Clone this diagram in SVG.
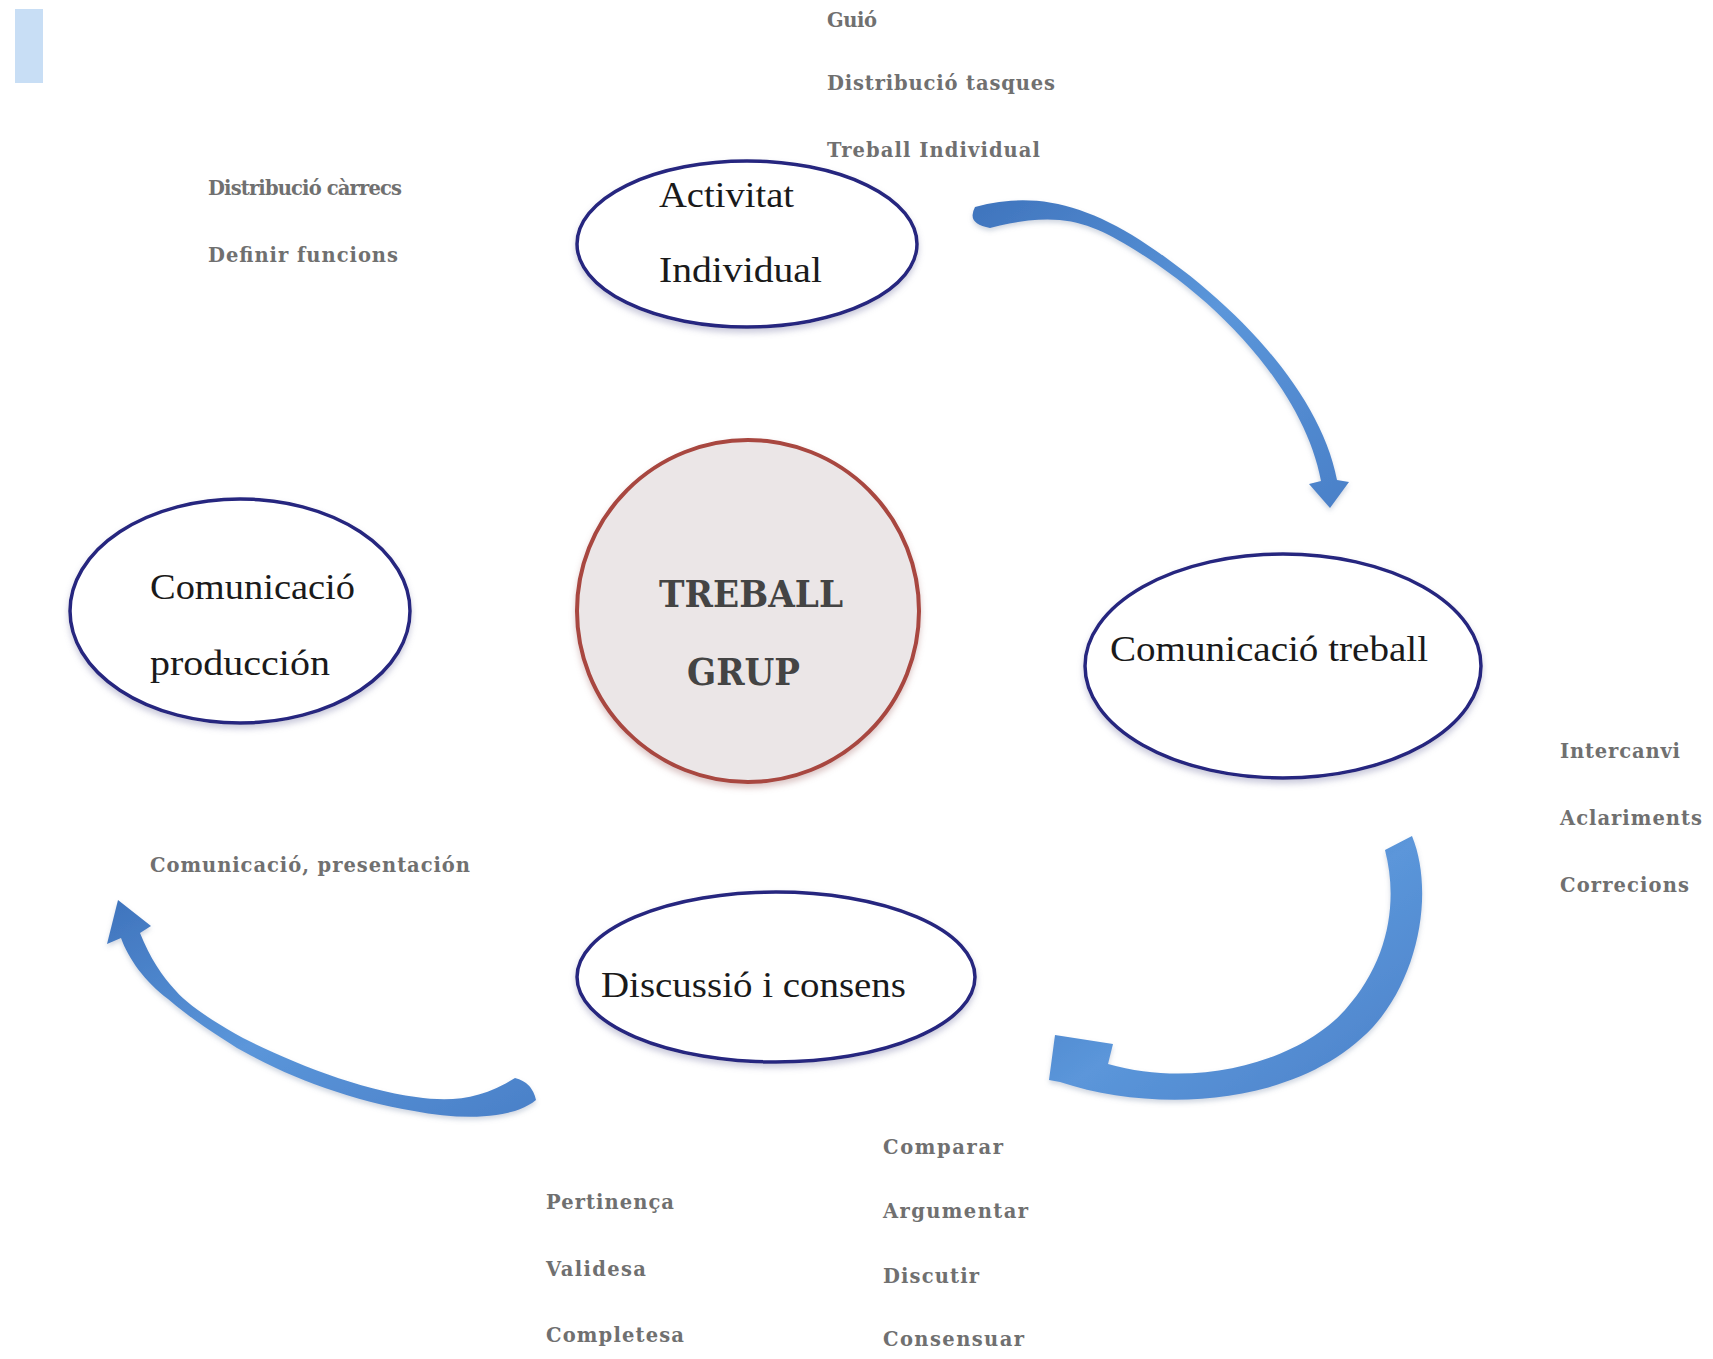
<svg xmlns="http://www.w3.org/2000/svg" width="1713" height="1359" viewBox="0 0 1713 1359">
  <defs>
    <style>
      .lbl { font-family: "DejaVu Serif", "Liberation Serif", serif; font-size: 19.5px; font-weight: bold; fill: #707070; }
      .ntxt { font-family: "Liberation Serif", "Times New Roman", serif; font-size: 36px; fill: #1a1a1a; }
      .ctxt { font-family: "DejaVu Serif", "Liberation Serif", serif; font-size: 37px; font-weight: bold; fill: #444444; }
      .node { fill: #ffffff; stroke: #25257f; stroke-width: 3.5; filter: url(#shadow); }
      .arrow { fill: url(#blue); filter: url(#ashadow); }
    </style>
    <filter id="shadow" x="-10%" y="-10%" width="120%" height="130%">
      <feDropShadow dx="0" dy="4" stdDeviation="3" flood-color="#8a8ab0" flood-opacity="0.45"/>
    </filter>
    <filter id="ashadow" x="-10%" y="-10%" width="120%" height="130%">
      <feDropShadow dx="0" dy="3" stdDeviation="2.5" flood-color="#7a8aa8" flood-opacity="0.35"/>
    </filter>
    <filter id="cshadow" x="-10%" y="-10%" width="120%" height="130%">
      <feDropShadow dx="0" dy="4" stdDeviation="3" flood-color="#b08080" flood-opacity="0.45"/>
    </filter>
    <linearGradient id="blue" x1="0" y1="0" x2="1" y2="1">
      <stop offset="0" stop-color="#3f74bd"/>
      <stop offset="0.5" stop-color="#5b96da"/>
      <stop offset="1" stop-color="#4a80c8"/>
    </linearGradient>
  </defs>

  <rect x="15" y="9" width="28" height="74" fill="#c8def5"/>

  <g id="connectors">
    <path id="arrow1" class="arrow" d="M 975,207 C 1030,192 1080,202 1140,240 C 1230,298 1320,390 1337,480 L 1349,482 L 1330,508 L 1309,484 L 1321,481 C 1305,395 1225,305 1135,250 C 1090,222 1060,210 990,228 Q 966,224 975,207 Z"/>
    <path id="arrow2" class="arrow" d="M 1385,850 L 1412,836 C 1434,890 1420,975 1373,1027 C 1300,1105 1160,1115 1060,1082 L 1049,1080 L 1055,1035 L 1113,1044 L 1108,1064 C 1200,1090 1300,1060 1345,1010 C 1390,960 1398,900 1385,850 Z"/>
    <path id="arrow3" class="arrow" d="M 515,1078 C 480,1100 450,1102 416,1097 C 360,1090 290,1062 243,1038 C 210,1020 185,1002 176,991 C 162,976 150,958 140,933 L 151,926 L 118,900 L 107,944 L 121,938 C 128,958 145,982 168,999 C 190,1018 212,1032 237,1048 C 290,1078 350,1100 414,1111 C 460,1120 512,1120 536,1100 Q 532,1082 515,1078 Z"/>
  </g>

  <g id="node-activitat">
    <ellipse class="node" cx="747" cy="244" rx="170" ry="83"/>
    <text class="ntxt" x="659" y="207" textLength="135" lengthAdjust="spacingAndGlyphs">Activitat</text>
    <text class="ntxt" x="659" y="282" textLength="163" lengthAdjust="spacingAndGlyphs">Individual</text>
  </g>

  <g id="node-produccion">
    <ellipse class="node" cx="240" cy="611" rx="170" ry="112"/>
    <text class="ntxt" x="150" y="599" textLength="205" lengthAdjust="spacingAndGlyphs">Comunicació</text>
    <text class="ntxt" x="150" y="675" textLength="180" lengthAdjust="spacingAndGlyphs">producción</text>
  </g>

  <g id="node-treball-grup">
    <circle cx="748" cy="611" r="171" fill="#ebe6e7" stroke="#a8463f" stroke-width="4" filter="url(#cshadow)"/>
    <text class="ctxt" x="659" y="607" textLength="184" lengthAdjust="spacingAndGlyphs">TREBALL</text>
    <text class="ctxt" x="687" y="685" textLength="113" lengthAdjust="spacingAndGlyphs">GRUP</text>
  </g>

  <g id="node-comunicacio-treball">
    <ellipse class="node" cx="1283" cy="666" rx="198" ry="112"/>
    <text class="ntxt" x="1110" y="661" textLength="318" lengthAdjust="spacingAndGlyphs">Comunicació treball</text>
  </g>

  <g id="node-discussio">
    <ellipse class="node" cx="776" cy="977" rx="199" ry="85"/>
    <text class="ntxt" x="601" y="997" textLength="305" lengthAdjust="spacingAndGlyphs">Discussió i consens</text>
  </g>

  <g id="labels">
    <text class="lbl" x="827" y="27" textLength="50">Guió</text>
    <text class="lbl" x="827" y="90" textLength="228">Distribució tasques</text>
    <text class="lbl" x="827" y="157" textLength="213">Treball Individual</text>
    <text class="lbl" x="208" y="195" textLength="194">Distribució càrrecs</text>
    <text class="lbl" x="208" y="262" textLength="190">Definir funcions</text>
    <text class="lbl" x="1560" y="758" textLength="120">Intercanvi</text>
    <text class="lbl" x="1560" y="825" textLength="142">Aclariments</text>
    <text class="lbl" x="1560" y="892" textLength="129">Correcions</text>
    <text class="lbl" x="150" y="872" textLength="320">Comunicació, presentación</text>
    <text class="lbl" x="546" y="1209" textLength="128">Pertinença</text>
    <text class="lbl" x="546" y="1276" textLength="100">Validesa</text>
    <text class="lbl" x="546" y="1342" textLength="138">Completesa</text>
    <text class="lbl" x="883" y="1154" textLength="120">Comparar</text>
    <text class="lbl" x="883" y="1218" textLength="145">Argumentar</text>
    <text class="lbl" x="883" y="1283" textLength="96">Discutir</text>
    <text class="lbl" x="883" y="1346" textLength="141">Consensuar</text>
  </g>
</svg>
